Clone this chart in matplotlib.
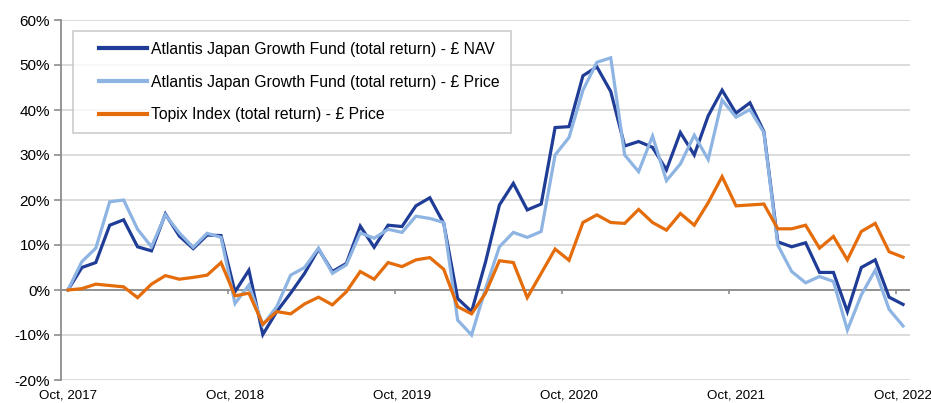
import matplotlib
matplotlib.use("Agg")
import matplotlib.pyplot as plt
from matplotlib.ticker import FuncFormatter
from matplotlib.legend_handler import HandlerLine2D

# cumulative total return in %, monthly from Oct 2017 to Oct 2022
months = ["Oct, 2017", "Oct, 2018", "Oct, 2019", "Oct, 2020", "Oct, 2021", "Oct, 2022"]

nav = [0, 5.0, 6.1, 14.4, 15.6, 9.6, 8.7, 16.9, 12.0, 9.2, 12.2, 12.1,
       -0.4, 4.4, -9.9, -4.8, -0.7, 3.7, 9.1, 4.1, 5.9, 14.2, 9.5, 14.4,
       14.1, 18.7, 20.5, 14.8, -1.9, -4.8, 6.2, 18.9, 23.7, 17.8, 19.1, 36.1,
       36.3, 47.6, 49.6, 44.1, 32.0, 33.0, 31.7, 26.7, 35.0, 30.0, 38.7, 44.4,
       39.3, 41.6, 35.2, 10.7, 9.6, 10.5, 3.9, 3.9, -4.8, 5.0, 6.7, -1.6, -3.2]

price = [0, 6.3, 9.3, 19.6, 20.0, 13.5, 9.6, 16.7, 12.7, 9.5, 12.6, 11.7,
         -3.0, 1.1, -7.8, -3.7, 3.3, 5.0, 9.3, 3.7, 5.6, 12.7, 11.5, 13.5,
         12.8, 16.4, 15.9, 15.0, -6.7, -10.0, 0.3, 9.6, 12.8, 11.7, 13.0, 30.0,
         33.9, 44.4, 50.6, 51.6, 30.0, 26.3, 34.2, 24.3, 28.0, 34.4, 29.0, 42.2,
         38.4, 40.1, 35.0, 10.0, 4.1, 1.6, 3.0, 1.9, -8.9, -1.1, 4.4, -4.3, -8.0]

topix = [0, 0.3, 1.3, 1.0, 0.7, -1.7, 1.3, 3.2, 2.4, 2.8, 3.3, 6.1,
         -1.3, -0.7, -7.6, -4.8, -5.3, -3.1, -1.6, -3.3, -0.4, 4.1, 2.4, 6.1,
         5.2, 6.7, 7.2, 4.6, -3.7, -5.3, -0.7, 6.5, 6.1, -1.7, 3.7, 9.1,
         6.6, 15.0, 16.7, 15.0, 14.8, 17.9, 15.0, 13.3, 17.0, 14.4, 19.4, 25.2,
         18.7, 18.9, 19.1, 13.6, 13.6, 14.4, 9.3, 11.9, 6.7, 13.0, 14.8, 8.5, 7.3]

labels = ["Atlantis Japan Growth Fund (total return) - \u00a3 NAV",
          "Atlantis Japan Growth Fund (total return) - \u00a3 Price",
          "Topix Index (total return) - \u00a3 Price"]
colors = ["#1f3c96", "#8db4e2", "#e46c0a"]


class InsetLine(HandlerLine2D):
    # leave some empty room left of the legend line, like Excel does
    def create_artists(self, legend, orig, xdescent, ydescent, width, height, fontsize, trans):
        pad = 11
        return super().create_artists(legend, orig, xdescent - pad, ydescent, width - pad,
                                      height, fontsize, trans)


plt.rcParams['font.family'] = ['Liberation Sans', 'DejaVu Sans']

fig = plt.figure(figsize=(9.31, 4.03), dpi=100)
ax = fig.add_axes([61 / 931, 1 - 380 / 403, 849 / 931, 360 / 403])

x = list(range(len(nav)))
for series, lab, col in zip([nav, price, topix], labels, colors):
    ax.plot(x, series, color=col, lw=2.3, label=lab, solid_joinstyle='miter')

ax.set_xlim(-0.5, len(nav) - 0.5)
ax.set_ylim(-20, 60)
ax.set_yticks(range(-20, 61, 10))
ax.yaxis.set_major_formatter(FuncFormatter(lambda v, p: f"{v:.0f}%"))
ax.grid(axis='y', color='#d9d9d9', lw=1.3)
ax.set_axisbelow(True)

# zero line with tick marks between categories, as in Excel
ax.axhline(0, color='#8c8c8c', lw=1.3, zorder=1)
yearly = [i * 12 - 0.5 for i in range(1, 6)]
ax.vlines(yearly, -0.9, 0, color='#8c8c8c', lw=1.2, zorder=1)

ax.set_xticks(range(0, len(nav), 12))
ax.set_xticklabels(months, fontsize=9.6)
ax.tick_params(axis='x', length=0, pad=7)
ax.tick_params(axis='y', length=5, width=1.2, color='#8c8c8c', labelsize=11, pad=3)

for s in ['top', 'right', 'bottom']:
    ax.spines[s].set_visible(False)
ax.spines['left'].set_color('#8c8c8c')
ax.spines['left'].set_linewidth(1.3)

leg = ax.legend(loc='upper left', bbox_to_anchor=(12 / 849, 349 / 360), fontsize=11.3,
                frameon=True, fancybox=False, handlelength=4.0, handletextpad=0.3,
                labelspacing=1.12, borderpad=0.7, borderaxespad=0,
                handler_map={matplotlib.lines.Line2D: InsetLine()})
leg.get_frame().set_edgecolor('#bfbfbf')
leg.get_frame().set_linewidth(1.2)
for ln in leg.get_lines():
    ln.set_linewidth(3)

fig.savefig("out.png", dpi=100)
